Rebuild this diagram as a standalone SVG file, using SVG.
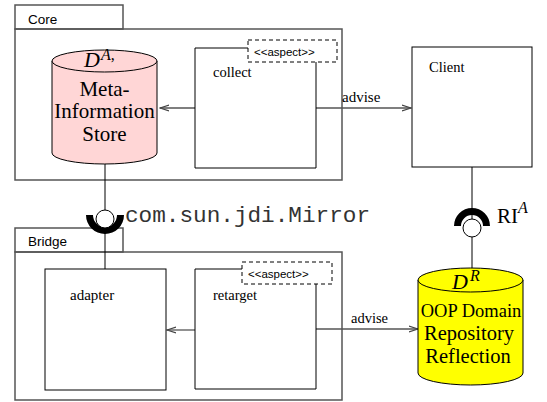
<svg xmlns="http://www.w3.org/2000/svg" width="547" height="402" viewBox="0 0 547 402">
<style>
.pkg{fill:none;stroke:#555;stroke-width:1.5}
.box{fill:#fff;stroke:#000;stroke-width:1}
.stereo{fill:#fff;stroke:#000;stroke-width:1;stroke-dasharray:4,3}
.con{fill:none;stroke:#555;stroke-width:1.3}
.sock{fill:none;stroke:#000;stroke-width:1}
.sans{font-family:"Liberation Sans",Arial,sans-serif;fill:#000}
.serif{font-family:"Liberation Serif","Times New Roman",serif;fill:#000}
.mono{font-family:"Liberation Mono","Courier New",monospace;fill:#333}
</style>
<defs>
<marker id="open" markerWidth="10" markerHeight="8" refX="9" refY="4" orient="auto" markerUnits="userSpaceOnUse">
<path d="M0,1 L9,4 L0,7" fill="none" stroke="#444" stroke-width="1.2"/>
</marker>
</defs>
<rect width="547" height="402" fill="#fff"/>

<g id="core">
<rect class="pkg" x="15" y="5" width="108" height="24"/>
<rect class="pkg" x="15" y="29" width="327" height="151"/>
<text class="sans" x="28" y="24" font-size="13.5">Core</text>
</g>

<g id="bridge">
<rect class="pkg" x="15" y="228" width="108" height="24"/>
<rect class="pkg" x="15" y="252" width="327" height="148"/>
<text class="sans" x="28" y="246" font-size="13.5">Bridge</text>
</g>

<g id="connectors">
<line class="sock" x1="105" y1="164" x2="105" y2="269"/>
<line class="sock" x1="472" y1="167" x2="472" y2="268"/>
<line class="con" x1="195" y1="108" x2="160" y2="108" marker-end="url(#open)"/>
<line class="con" x1="316" y1="108" x2="411" y2="108" marker-end="url(#open)"/>
<text class="serif" x="342" y="102" font-size="15">advise</text>
<line class="con" x1="195" y1="330" x2="167" y2="330" marker-end="url(#open)"/>
<line class="con" x1="316" y1="329" x2="418" y2="329" marker-end="url(#open)"/>
<text class="serif" x="351" y="323" font-size="14.5">advise</text>
</g>

<g id="mirror-socket">
<path d="M86,215 A19,19 0 0 0 124,215 L117,215 A12,12 0 0 1 93,215 Z" fill="#000"/>
<circle cx="105" cy="219" r="9" fill="#fff" stroke="#000" stroke-width="1"/>
<text class="mono" x="125" y="222" font-size="22.7" textLength="245" lengthAdjust="spacingAndGlyphs">com.sun.jdi.Mirror</text>
</g>

<g id="ri-socket">
<path d="M454,226 A18,18 0 0 1 490,226 L483,226 A11,11 0 0 0 461,226 Z" fill="#000"/>
<circle cx="472" cy="228" r="9" fill="#fff" stroke="#000" stroke-width="1"/>
<text class="serif" x="497" y="223" font-size="21">RI</text>
<text class="serif" x="518" y="213" font-size="16" font-style="italic">A</text>
</g>

<g id="meta-store">
<path d="M52,61 L52,153 A52.5,11 0 0 0 157,153 L157,61 Z" fill="#ffd6d6" stroke="#000" stroke-width="1"/>
<ellipse cx="104.5" cy="61" rx="52.5" ry="11" fill="#ffd6d6" stroke="#000" stroke-width="1"/>
<text class="serif" x="84" y="67" font-size="22" font-style="italic">D</text>
<text class="serif" x="101" y="60" font-size="16" font-style="italic">A<tspan font-style="normal">,</tspan></text>
<text class="serif" x="104.5" y="96" font-size="21" text-anchor="middle">Meta-</text>
<text class="serif" x="104.5" y="118" font-size="21" text-anchor="middle">Information</text>
<text class="serif" x="104.5" y="141" font-size="21" text-anchor="middle">Store</text>
</g>

<g id="collect">
<path class="box" d="M248,48 L195,48 L195,168 L316,168 L316,62"/>
<rect class="stereo" x="248" y="40" width="89" height="22"/>
<text class="sans" x="254" y="56" font-size="11.5">&lt;&lt;aspect&gt;&gt;</text>
<text class="serif" x="213" y="77" font-size="14.5">collect</text>
</g>

<g id="client">
<rect class="box" x="412" y="47" width="120" height="120"/>
<text class="serif" x="429" y="72" font-size="14.5">Client</text>
</g>

<g id="adapter">
<rect class="box" x="45" y="269" width="121" height="121"/>
<text class="serif" x="70" y="300" font-size="15">adapter</text>
</g>

<g id="retarget">
<path class="box" d="M242,269 L195,269 L195,389 L316,389 L316,284"/>
<rect class="stereo" x="242" y="262" width="90" height="22"/>
<text class="sans" x="248" y="278" font-size="11.5">&lt;&lt;aspect&gt;&gt;</text>
<text class="serif" x="213" y="300" font-size="14.5">retarget</text>
</g>

<g id="oop-repository">
<path d="M418,280 L418,373 A52.5,12 0 0 0 523,373 L523,280 Z" fill="#ffff00" stroke="#000" stroke-width="1"/>
<ellipse cx="470.5" cy="280" rx="52.5" ry="12" fill="#ffff00" stroke="#000" stroke-width="1"/>
<text class="serif" x="452" y="289" font-size="22" font-style="italic">D</text>
<text class="serif" x="470" y="281" font-size="16" font-style="italic">R</text>
<text class="serif" x="471" y="317" font-size="18.5" text-anchor="middle">OOP Domain</text>
<text class="serif" x="469" y="340" font-size="20.5" text-anchor="middle">Repository</text>
<text class="serif" x="468" y="363" font-size="20.5" text-anchor="middle">Reflection</text>
</g>
</svg>
